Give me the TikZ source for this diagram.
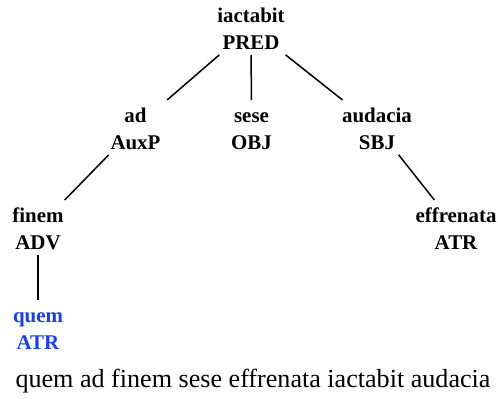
\documentclass[tikz,border=0pt]{standalone}
\usepackage{fontspec}
\setmainfont{Liberation Serif}
\definecolor{attrblue}{RGB}{26,60,255}
\newcommand{\wtop}{\rule{0pt}{22.5bp}}
\newcommand{\wbot}{\rule[-5bp]{0pt}{5bp}}
\begin{document}
\begin{tikzpicture}[x=1bp, y=-1bp,
    word/.style={anchor=north, align=center, inner sep=0pt, minimum width=70bp,
      font=\fontsize{21}{27}\selectfont\bfseries},
    edge/.style={line width=1.5bp}]
    \useasboundingbox (0,0) rectangle (498,398);

    % Root
    \node[word] (iactabit) at (251,0) {\wtop iactabit\\PRED\wbot};

    % Second level
    \node[word] (ad) at (135.5,100) {\wtop ad\\AuxP\wbot};
    \node[word] (sese) at (251.5,100) {\wtop sese\\OBJ\wbot};
    \node[word] (audacia) at (377,100) {\wtop audacia\\SBJ\wbot};

    % Third level
    \node[word] (finem) at (38,200) {\wtop finem\\ADV\wbot};
    \node[word] (effrenata) at (456,200) {\wtop effrenata\\ATR\wbot};

    % Fourth level
    \node[word, text=attrblue] (quem) at (38,300) {\wtop quem\\ATR\wbot};

    % Edges
    \draw[edge] (iactabit) -- (ad);
    \draw[edge] (iactabit) -- (sese);
    \draw[edge] (iactabit) -- (audacia);
    \draw[edge] (ad) -- (finem);
    \draw[edge] (audacia) -- (effrenata);
    \draw[edge] (finem) -- (quem);

    % Sentence
    \node[anchor=base, inner sep=0pt, font=\fontsize{26.2}{31}\selectfont] (sentence) at (253,387)
        {quem ad finem sese effrenata iactabit audacia};
\end{tikzpicture}
\end{document}
